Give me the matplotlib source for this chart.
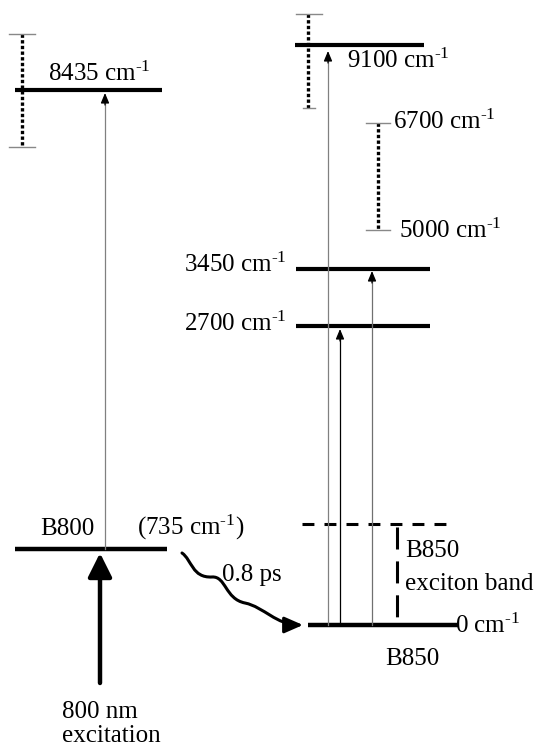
import matplotlib
matplotlib.use("Agg")
import matplotlib.pyplot as plt
from matplotlib.patches import FancyArrowPatch
from matplotlib.path import Path

plt.rcParams['font.family'] = ['Liberation Serif', 'DejaVu Serif']
plt.rcParams['mathtext.fontset'] = 'custom'
plt.rcParams['mathtext.rm'] = 'Liberation Serif'
plt.rcParams['mathtext.it'] = 'Liberation Serif:italic'
plt.rcParams['mathtext.bf'] = 'Liberation Serif:bold'

# level energies in cm-1
b800_levels = [735, 8435]
b850_levels = [0, 2700, 3450, 9100]
b850_band = [5000, 6700]

# the scheme is not to scale: drawn row (from the top) for each energy
row = {0: 625, 735: 549, 2700: 326, 3450: 269, 5000: 230, 6700: 123,
       8435: 90, 9100: 45}
band_top = 524          # top of the B850 exciton band (dashed)
width_8435 = (34, 147)  # spread drawn around the 8435 level
width_9100 = (14, 108)  # spread drawn around the 9100 level

FS = 18


def wn(e):
    return r"%d cm$^{\text{-1}}$" % e


fig = plt.figure(figsize=(5.37, 7.48), dpi=100)
ax = fig.add_axes([0, 0, 1, 1])
ax.set_xlim(0, 537)
ax.set_ylim(748, 0)
ax.axis('off')


def level(x0, x1, e, lw=3.0):
    ax.plot([x0, x1], [row[e], row[e]], color='k', lw=lw, solid_capstyle='butt')


def spread(x, y0, y1, cap0, cap1):
    ax.plot([x, x], [y0, y1], color='k', lw=2.4, linestyle=(0, (1, 0.7)))
    ax.plot(cap0, [y0, y0], color='#888888', lw=1.0)
    ax.plot(cap1, [y1, y1], color='#888888', lw=1.0)


def up_arrow(x, y0, y1, color):
    ax.plot([x, x], [y0, y1 + 6], color=color, lw=0.9)
    ax.annotate("", xy=(x, y1), xytext=(x, y1 + 12),
                arrowprops=dict(arrowstyle="-|>,head_length=0.6,head_width=0.25",
                                mutation_scale=10, color='k', lw=0.9,
                                shrinkA=0, shrinkB=0))


# ---- B800 side ----
spread(22, width_8435[0], width_8435[1], [9, 35], [9, 35])
level(15, 162, 8435)
ax.text(48, 81, wn(8435), fontsize=FS, va='baseline')
level(15, 167, 735, lw=3.2)
ax.text(40, 535, "B800", fontsize=FS, va='baseline')
ax.text(137, 535, r"(735 cm$^{\text{-1}}$)", fontsize=FS, va='baseline')
up_arrow(105, row[735], row[8435] + 3, '#808080')

# pump arrow
ax.annotate("", xy=(100, row[735] + 4), xytext=(100, 683),
            arrowprops=dict(arrowstyle="-|>,head_length=0.8,head_width=0.4",
                            mutation_scale=18, color='k', lw=3.2,
                            shrinkA=0, shrinkB=0))
ax.text(62, 718, "800 nm", fontsize=FS, va='baseline')
ax.text(62, 742, "excitation", fontsize=FS, va='baseline')

# B800 -> B850 transfer (wavy)
verts = [(182, 553),
         (192, 560), (192, 578), (212, 577),
         (226, 576), (225, 599), (245, 603),
         (264, 607), (276, 625), (303, 625)]
codes = [Path.MOVETO] + [Path.CURVE4] * 9
wave = FancyArrowPatch(path=Path(verts, codes),
                       arrowstyle="-|>,head_length=0.8,head_width=0.35",
                       mutation_scale=14, color='k', lw=2.2)
ax.add_patch(wave)
ax.text(222, 581, "0.8 ps", fontsize=FS, va='baseline')

# ---- B850 side ----
spread(308, width_9100[0], width_9100[1], [296, 322], [303, 315])
level(295, 424, 9100)
ax.text(347, 68, wn(9100), fontsize=FS, va='baseline')

spread(378, row[6700], row[5000], [366, 390], [366, 390])
ax.text(393, 129, wn(6700), fontsize=FS, va='baseline')
ax.text(399, 238, wn(5000), fontsize=FS, va='baseline')

level(296, 430, 3450)
ax.text(184, 272, wn(3450), fontsize=FS, va='baseline')
level(296, 430, 2700)
ax.text(184, 331, wn(2700), fontsize=FS, va='baseline')

# exciton band
ax.plot([302, 450], [band_top, band_top], color='k', lw=2.2,
        linestyle=(0, (3.9, 3.3)))
ax.plot([397, 397], [band_top + 3, row[0] - 7], color='k', lw=2.2,
        linestyle=(0, (7.2, 3.9)))
ax.text(405, 557, "B850", fontsize=FS, va='baseline')
ax.text(405, 590, "exciton band", fontsize=FS, va='baseline')

level(308, 458, 0, lw=3.2)
ax.text(455, 633, wn(0), fontsize=FS, va='baseline')
ax.text(412, 665, "B850", fontsize=FS, va='baseline', ha='center')

# probe transitions from the bottom of B850
up_arrow(328, row[0], row[9100] + 6, '#808080')
up_arrow(340, row[0], row[2700] + 3, 'k')
up_arrow(372, row[0], row[3450] + 2, '#707070')

fig.savefig("out.png", dpi=100)
